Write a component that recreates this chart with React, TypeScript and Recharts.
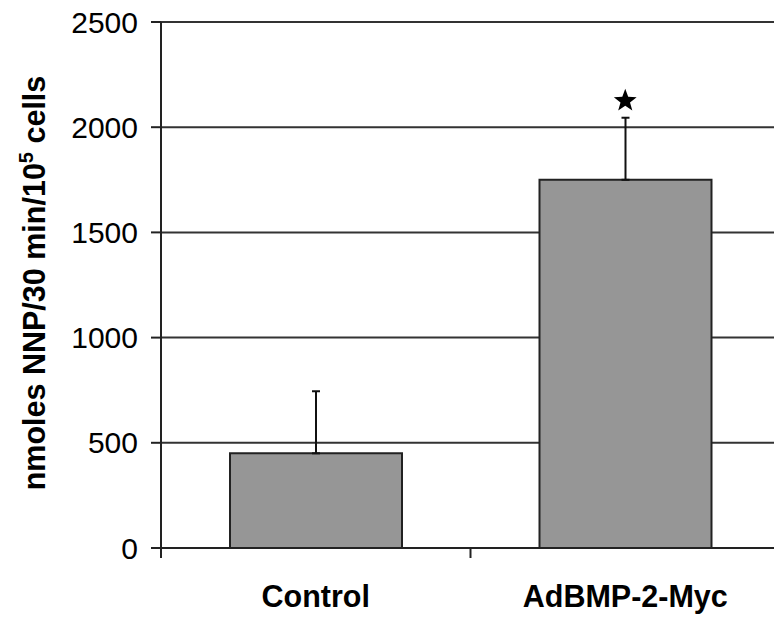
import React from 'react';
import { ComposedChart, Bar, ErrorBar, Scatter, XAxis, YAxis, CartesianGrid, Label } from 'recharts';

const categories = ['Control', 'AdBMP-2-Myc'];
const means = [450, 1750];
const errors = [295, 295];
const starValues = [null, 2130];
const yTicks = [0, 500, 1000, 1500, 2000, 2500];

const data = categories.map((name, i) => ({
  name,
  value: means[i],
  err: [0, errors[i]],
  star: starValues[i],
}));

const FONT = '"Liberation Sans", Arial, sans-serif';

const CategoryTick = (props: any) => {
  const { x, y, payload } = props;
  const offset = payload?.offset ?? 0;
  return (
    <g>
      <line x1={x - offset} y1={y - 10} x2={x - offset} y2={y} stroke="#222" strokeWidth={2} />
      <text x={x} y={y + 49} textAnchor="middle" fontFamily={FONT} fontSize={30.5} fontWeight="bold" fill="#000">
        {payload.value}
      </text>
    </g>
  );
};

const YTitle = () => (
  <text
    transform="translate(45,283) rotate(-90)"
    textAnchor="middle"
    fontFamily={FONT}
    fontSize={30.5}
    fontWeight="bold"
    fill="#000"
  >
    nmoles NNP/30 min/10
    <tspan dy={-12} fontSize={20}>5</tspan>
    <tspan dy={12}> cells</tspan>
  </text>
);

const Star = (props: any) => {
  const { cx, cy, payload } = props;
  if (cx == null || cy == null || payload?.star == null) return null;
  const outer = 12;
  const inner = 5;
  const pts: string[] = [];
  for (let k = 0; k < 10; k++) {
    const r = k % 2 === 0 ? outer : inner;
    const a = -Math.PI / 2 + (k * Math.PI) / 5;
    pts.push(`${cx + r * Math.cos(a)},${cy + 1 + r * Math.sin(a)}`);
  }
  return <polygon points={pts.join(' ')} fill="#000" />;
};

export default function App() {
  return (
    <div style={{ position: 'absolute', left: 0, top: 0, width: 774, height: 618, overflow: 'hidden', background: '#fff' }}>
      <ComposedChart
        width={800}
        height={618}
        data={data}
        margin={{ top: 22, right: 20, left: 0, bottom: 0 }}
      >
        <CartesianGrid horizontal vertical={false} stroke="#333" strokeWidth={2} />
        <XAxis
          dataKey="name"
          height={70}
          axisLine={{ stroke: '#222', strokeWidth: 2 }}
          tickLine={false}
          tickSize={10}
          tickMargin={0}
          tick={<CategoryTick />}
          interval={0}
        />
        <YAxis
          width={161}
          domain={[0, 2500]}
          ticks={yTicks}
          interval={0}
          axisLine={{ stroke: '#222', strokeWidth: 2 }}
          tickLine={{ stroke: '#222', strokeWidth: 2 }}
          tickSize={10}
          tickMargin={13}
          tick={{ fontFamily: FONT, fontSize: 30, fill: '#000' }}
        >
          <Label content={<YTitle />} />
        </YAxis>
        <Bar dataKey="value" barSize={172} fill="#969696" stroke="#222" strokeWidth={2} isAnimationActive={false}>
          <ErrorBar dataKey="err" direction="y" width={4} stroke="#111" strokeWidth={2} />
        </Bar>
        <Scatter dataKey="star" shape={<Star />} isAnimationActive={false} />
      </ComposedChart>
    </div>
  );
}
